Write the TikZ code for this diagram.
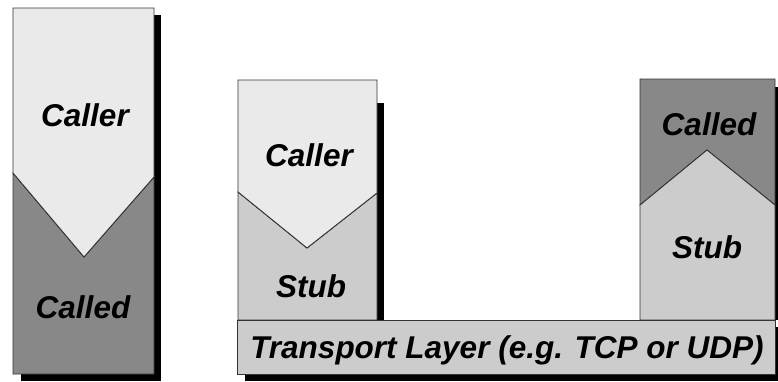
\documentclass[tikz,border=0pt]{standalone}
\usepackage{fontspec}
\setmainfont{Liberation Sans}
\begin{document}
\begin{tikzpicture}[x=1pt,y=-1pt,
  lbl/.style={font=\fontsize{31.5}{31.5}\selectfont\bfseries\itshape, anchor=base, inner sep=0pt},
  shade/.style={fill=black, draw=none},
  part/.style={draw=black!80, line width=0.9pt, line join=miter}]
\definecolor{lightg}{HTML}{EAEAEA}
\definecolor{midg}{HTML}{CCCCCC}
\definecolor{darkg}{HTML}{888888}
\useasboundingbox (0,0) rectangle (778,381);
\begin{scope}
\clip (0,0) rectangle (778,381);
% shadows
\fill[shade] (21,15) rectangle (161,381);
\fill[shade] (377,103) rectangle (384,320);
\fill[shade] (775,87) rectangle (782,320);
\fill[shade] (245,327) rectangle (782,381);
% left box
\filldraw[part, fill=darkg] (13,173) -- (84,257) -- (154,177) -- (154,374) -- (13,374) -- cycle;
\filldraw[part, fill=lightg] (13,8) -- (154,8) -- (154,177) -- (84,257) -- (13,173) -- cycle;
% middle box
\filldraw[part, fill=midg] (238,192) -- (307,248) -- (377,193) -- (377,320) -- (238,320) -- cycle;
\filldraw[part, fill=lightg] (238,80) -- (377,80) -- (377,193) -- (307,248) -- (238,192) -- cycle;
% right box
\filldraw[part, fill=darkg] (640,79) -- (775,79) -- (775,205) -- (707,150) -- (640,205) -- cycle;
\filldraw[part, fill=midg] (640,205) -- (707,150) -- (775,205) -- (775,320) -- (640,320) -- cycle;
% transport bar
\filldraw[part, fill=midg] (237,320) rectangle (775,374);
\end{scope}
% labels
\node[lbl] (lcaller) at (85,126) {Caller};
\node[lbl] (lcalled) at (83,318) {Called};
\node[lbl] (mcaller) at (309,166) {Caller};
\node[lbl] (mstub) at (311,297) {Stub};
\node[lbl] (rcalled) at (709,135) {Called};
\node[lbl] (rstub) at (707,258) {Stub};
\node[lbl] (transport) at (507,358) {Transport Layer (e.g. TCP or UDP)};
\end{tikzpicture}
\end{document}
